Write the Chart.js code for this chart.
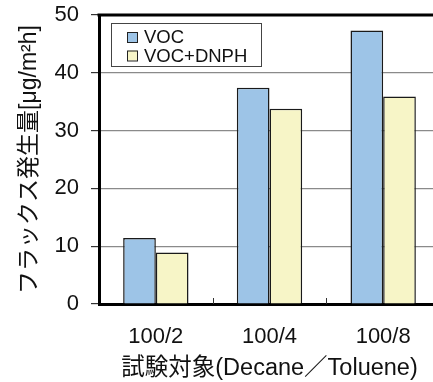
<!DOCTYPE html>
<html>
<head>
<meta charset="utf-8">
<script src="https://cdn.jsdelivr.net/npm/chart.js@4/dist/chart.umd.min.js"></script>
<style>
html,body{margin:0;padding:0;background:#fff;overflow:hidden;}
#wrap{width:442px;height:382px;}
</style>
</head>
<body>
<div id="wrap"><canvas id="c" width="442" height="382"></canvas></div>
<script>
const categories = ['100/2', '100/4', '100/8'];
const vocValues = [11.4, 37.4, 47.3];
const dnphValues = [8.9, 33.8, 35.9];
const seriesLabels = ['VOC', 'VOC+DNPH'];
const yTicks = [0, 10, 20, 30, 40, 50];
const yTitle = 'フラックス発生量[μg/m²h]';
const xTitle = '試験対象(Decane／Toluene)';

const FONT = "'Liberation Sans', Arial, 'Noto Sans CJK JP', sans-serif";

const framePlugin = {
  id: 'frame',
  afterDatasetsDraw(chart) {
    const {ctx, chartArea: a, scales} = chart;
    ctx.save();
    ctx.strokeStyle = '#000';
    ctx.lineWidth = 3;
    ctx.beginPath();
    ctx.moveTo(a.left - 1.5, a.top);
    ctx.lineTo(a.right, a.top);
    ctx.stroke();
    const xs = scales.x;
    ctx.lineWidth = 1;
    ctx.strokeStyle = '#333';
    for (let i = 0; i < categories.length - 1; i++) {
      const px = Math.round((xs.getPixelForTick(i) + xs.getPixelForTick(i + 1)) / 2) + 0.5;
      ctx.beginPath();
      ctx.moveTo(px, a.bottom);
      ctx.lineTo(px, a.bottom - 6);
      ctx.stroke();
    }
    const lx = a.left + 12, ly = a.top + 8, lw = 150, lh = 43;
    ctx.fillStyle = '#fff';
    ctx.fillRect(lx, ly, lw, lh);
    ctx.strokeStyle = '#444';
    ctx.lineWidth = 1;
    ctx.strokeRect(lx + 0.5, ly + 0.5, lw, lh);
    ctx.font = '18.5px ' + FONT;
    ctx.textBaseline = 'alphabetic';
    chart.data.datasets.forEach((ds, i) => {
      const by = ly + 9 + i * 18.5;
      ctx.fillStyle = ds.backgroundColor;
      ctx.fillRect(lx + 17, by, 10, 10);
      ctx.strokeStyle = '#222';
      ctx.strokeRect(lx + 16.5, by + 0.5, 10, 10);
      ctx.fillStyle = '#111';
      ctx.fillText(ds.label, lx + 33, by + 11);
    });
    ctx.restore();
  }
};

new Chart(document.getElementById('c'), {
  type: 'bar',
  data: {
    labels: categories,
    datasets: [
      {label: seriesLabels[0], data: vocValues, backgroundColor: '#9dc4e7', borderColor: '#1a1a1a', borderWidth: 1.5},
      {label: seriesLabels[1], data: dnphValues, backgroundColor: '#f7f5c7', borderColor: '#1a1a1a', borderWidth: 1.5}
    ]
  },
  options: {
    responsive: false,
    animation: false,
    devicePixelRatio: 1,
    layout: {padding: {left: 0, right: 2, top: 15, bottom: 0}},
    categoryPercentage: 0.575,
    barPercentage: 1.0,
    plugins: {legend: {display: false}, tooltip: {enabled: false}},
    scales: {
      x: {
        grid: {display: false, drawTicks: false},
        border: {display: true, color: '#000', width: 3},
        ticks: {color: '#111', font: {family: FONT, size: 22}, padding: 20},
        title: {display: true, text: xTitle, color: '#111', font: {family: FONT, size: 23.5}, padding: {top: 0, bottom: -1}},
        afterFit(s) { s.height = 78; s.paddingLeft = 0; s.paddingRight = 0; }
      },
      y: {
        min: 0, max: 50,
        afterBuildTicks(s) { s.ticks = yTicks.map(v => ({value: v})); },
        grid: {color: '#8a8a8a', lineWidth: 1.2, tickLength: 8, tickColor: '#333', drawTicks: true},
        border: {display: true, color: '#000', width: 3},
        ticks: {color: '#111', font: {family: FONT, size: 22}, padding: 12},
        title: {display: true, text: yTitle, color: '#111', font: {family: FONT, size: 23}, padding: {top: 16, bottom: 0}},
        afterFit(s) { s.width = 99; s.paddingTop = 0; s.paddingBottom = 0; }
      }
    }
  },
  plugins: [framePlugin]
});
</script>
</body>
</html>
